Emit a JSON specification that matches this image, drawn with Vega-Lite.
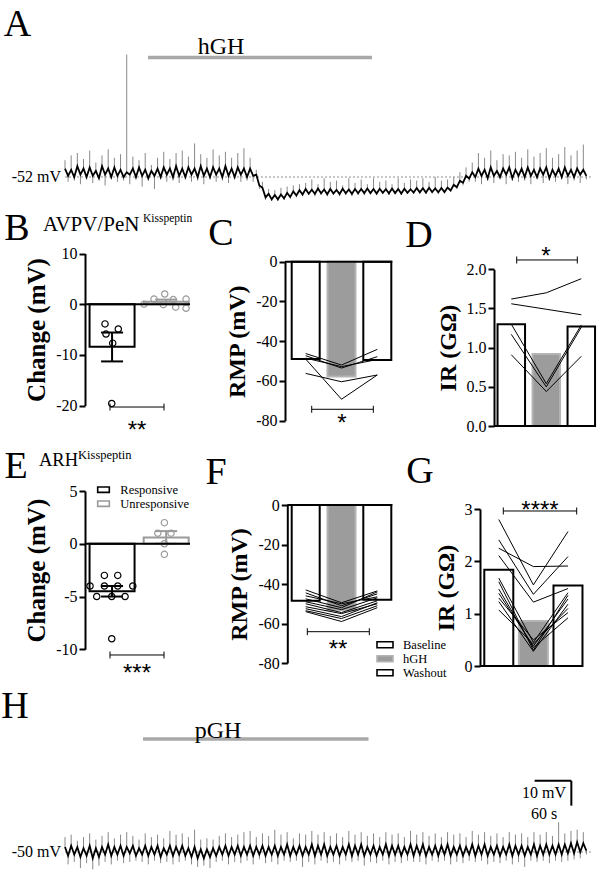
{
"$schema":"https://vega.github.io/schema/vega-lite/v6.json",
"width":600,"height":882,"autosize":{"type":"none"},"padding":0,"background":"white",
"config":{
 "view":{"stroke":null},
 "font":"Liberation Serif",
 "text":{"font":"Liberation Serif","color":"black"},
 "axis":{"domainColor":"black","domainWidth":2,"tickColor":"black","tickWidth":2,"tickSize":6,"labelFont":"Liberation Serif","labelFontSize":16,"labelColor":"black","labelPadding":2,"titleFont":"Liberation Serif","titleFontSize":24,"titleFontWeight":"bold","titleColor":"black","titlePadding":6,"grid":false},
 "legend":{"labelFont":"Liberation Serif","labelFontSize":12.5,"labelColor":"black"}
},
"datasets":{
 "traceA":[
  {"t":0,"v":-48.5,"g":-45},{"t":5,"v":-51.5,"g":-54},{"t":10,"v":-49,"g":-43},{"t":15,"v":-52,"g":-53.5},{"t":20,"v":-47.5,"g":-42},{"t":25,"v":-51,"g":-55},{"t":30,"v":-48.5,"g":-44.5},{"t":35,"v":-52,"g":-53},{"t":40,"v":-48,"g":-41},{"t":45,"v":-51.5,"g":-54.5},
  {"t":50,"v":-49.5,"g":-46},{"t":55,"v":-52.5,"g":-52.5},{"t":60,"v":-47.5,"g":-43},{"t":65,"v":-51,"g":-55.5},{"t":70,"v":-48.5,"g":-40.5},{"t":75,"v":-52,"g":-53},{"t":80,"v":-48,"g":-44},{"t":85,"v":-51.5,"g":-54},{"t":90,"v":-49,"g":-42.5},{"t":95,"v":-52,"g":-53.5},
  {"t":100,"v":-50,"g":-1},{"t":105,"v":-51,"g":-55},{"t":110,"v":-48.5,"g":-43.5},{"t":115,"v":-52,"g":-53},{"t":120,"v":-48,"g":-45},{"t":125,"v":-51.5,"g":-56},{"t":130,"v":-49,"g":-42},{"t":135,"v":-52.5,"g":-53.5},{"t":140,"v":-49.5,"g":-47},{"t":145,"v":-51.5,"g":-57},
  {"t":150,"v":-48.5,"g":-44},{"t":155,"v":-52,"g":-53},{"t":160,"v":-48,"g":-41.5},{"t":165,"v":-51,"g":-54},{"t":170,"v":-48.5,"g":-44.5},{"t":175,"v":-52,"g":-53.5},{"t":180,"v":-47.5,"g":-42},{"t":185,"v":-51.5,"g":-54.5},{"t":190,"v":-48.5,"g":-41},{"t":195,"v":-52,"g":-53},
  {"t":200,"v":-48,"g":-43.5},{"t":205,"v":-51,"g":-54},{"t":210,"v":-48.5,"g":-38},{"t":215,"v":-52,"g":-53.5},{"t":220,"v":-47.5,"g":-42.5},{"t":225,"v":-51.5,"g":-55},{"t":230,"v":-48.5,"g":-44},{"t":235,"v":-52,"g":-53},{"t":240,"v":-48,"g":-40.5},{"t":245,"v":-51,"g":-54},
  {"t":250,"v":-48.5,"g":-43},{"t":255,"v":-52,"g":-53.5},{"t":260,"v":-47.5,"g":-41.5},{"t":265,"v":-51.5,"g":-54.5},{"t":270,"v":-48.5,"g":-44},{"t":275,"v":-52,"g":-53},{"t":280,"v":-48,"g":-42},{"t":285,"v":-51,"g":-54},{"t":290,"v":-48.5,"g":-40},{"t":295,"v":-52,"g":-53.5},
  {"t":300,"v":-48.5,"g":-44},{"t":305,"v":-51.5,"g":-54},{"t":310,"v":-51,"g":-49},{"t":315,"v":-55.5,"g":-57},{"t":320,"v":-56.5,"g":-54},{"t":325,"v":-60.5,"g":-61.5},{"t":330,"v":-59,"g":-57},{"t":335,"v":-61.3,"g":-62},{"t":340,"v":-59.5,"g":-57.5},{"t":345,"v":-61.3,"g":-62},
  {"t":350,"v":-59.3,"g":-56.5},{"t":355,"v":-60.9,"g":-61.5},{"t":360,"v":-58.6,"g":-56},{"t":365,"v":-60.3,"g":-61},{"t":370,"v":-58,"g":-55.5},{"t":375,"v":-59.7,"g":-60.5},{"t":380,"v":-57.5,"g":-55},{"t":385,"v":-59.3,"g":-60},{"t":390,"v":-57,"g":-54.5},{"t":395,"v":-59,"g":-59.5},
  {"t":400,"v":-57.3,"g":-53},{"t":405,"v":-59,"g":-60},{"t":410,"v":-56.8,"g":-55},{"t":415,"v":-58.8,"g":-59.5},{"t":420,"v":-57.2,"g":-52.5},{"t":425,"v":-59.2,"g":-60},{"t":430,"v":-57,"g":-54},{"t":435,"v":-58.9,"g":-59.5},{"t":440,"v":-57.4,"g":-53.5},{"t":445,"v":-59.1,"g":-60},
  {"t":450,"v":-56.9,"g":-55.5},{"t":455,"v":-58.8,"g":-59.5},{"t":460,"v":-57.2,"g":-52.5},{"t":465,"v":-59,"g":-60},{"t":470,"v":-57,"g":-54.5},{"t":475,"v":-58.8,"g":-59.5},{"t":480,"v":-57,"g":-53},{"t":485,"v":-58.7,"g":-59.5},{"t":490,"v":-56.8,"g":-55},{"t":495,"v":-58.7,"g":-59},
  {"t":500,"v":-57,"g":-52.5},{"t":505,"v":-58.9,"g":-59.5},{"t":510,"v":-56.9,"g":-54},{"t":515,"v":-58.6,"g":-59},{"t":520,"v":-57.1,"g":-53.5},{"t":525,"v":-58.8,"g":-59.5},{"t":530,"v":-56.8,"g":-55},{"t":535,"v":-58.7,"g":-59},{"t":540,"v":-57,"g":-52.5},{"t":545,"v":-58.9,"g":-59.5},
  {"t":550,"v":-56.9,"g":-54.5},{"t":555,"v":-58.6,"g":-59},{"t":560,"v":-57.1,"g":-53},{"t":565,"v":-58.5,"g":-59},{"t":570,"v":-56.6,"g":-53.5},{"t":575,"v":-58.4,"g":-58.8},{"t":580,"v":-56.7,"g":-52.5},{"t":585,"v":-58.5,"g":-59},{"t":590,"v":-56.5,"g":-54},{"t":595,"v":-58.3,"g":-58.8},
  {"t":600,"v":-56.8,"g":-52},{"t":605,"v":-58.4,"g":-59},{"t":610,"v":-56.6,"g":-53.5},{"t":615,"v":-58.3,"g":-58.5},{"t":620,"v":-56.4,"g":-53},{"t":625,"v":-57.6,"g":-58},{"t":630,"v":-55.3,"g":-52},{"t":635,"v":-56.2,"g":-57},{"t":640,"v":-53.6,"g":-50},{"t":645,"v":-54.4,"g":-55.5},
  {"t":650,"v":-51.5,"g":-48},{"t":655,"v":-52.6,"g":-54},{"t":660,"v":-50,"g":-46},{"t":665,"v":-52,"g":-54},{"t":670,"v":-48.5,"g":-42},{"t":675,"v":-51.5,"g":-55},{"t":680,"v":-49,"g":-44},{"t":685,"v":-52.5,"g":-53.5},{"t":690,"v":-48,"g":-41},{"t":695,"v":-51.5,"g":-54.5},
  {"t":700,"v":-49.5,"g":-45},{"t":705,"v":-52,"g":-53},{"t":710,"v":-48.5,"g":-42.5},{"t":715,"v":-51,"g":-55},{"t":720,"v":-48,"g":-43},{"t":725,"v":-52.5,"g":-53.5},{"t":730,"v":-49,"g":-41.5},{"t":735,"v":-51.5,"g":-54},{"t":740,"v":-48.5,"g":-44},{"t":745,"v":-52,"g":-53.5},
  {"t":750,"v":-48,"g":-40.5},{"t":755,"v":-51.5,"g":-55},{"t":760,"v":-49,"g":-43.5},{"t":765,"v":-52,"g":-53},{"t":770,"v":-48.5,"g":-42},{"t":775,"v":-51,"g":-54.5},{"t":780,"v":-48,"g":-40},{"t":785,"v":-52.5,"g":-53.5},{"t":790,"v":-49,"g":-44},{"t":795,"v":-51.5,"g":-54},
  {"t":800,"v":-48.5,"g":-42.5},{"t":805,"v":-52,"g":-53},{"t":810,"v":-48,"g":-39.5},{"t":815,"v":-51.5,"g":-55},{"t":820,"v":-49,"g":-43},{"t":825,"v":-52,"g":-53.5},{"t":830,"v":-48.5,"g":-41},{"t":835,"v":-51,"g":-54.5},{"t":840,"v":-49,"g":-38.5},{"t":845,"v":-51.5,"g":-53}
 ],
 "traceH":[
  {"t":0,"v":-48,"g":-44},{"t":5,"v":-51.5,"g":-55},{"t":10,"v":-47.5,"g":-43},{"t":15,"v":-51,"g":-54},{"t":20,"v":-48,"g":-45.5},{"t":25,"v":-52,"g":-56.5},{"t":30,"v":-48.5,"g":-44},{"t":35,"v":-51.5,"g":-54.5},{"t":40,"v":-47.5,"g":-42.5},{"t":45,"v":-52.5,"g":-57},
  {"t":50,"v":-48.5,"g":-45},{"t":55,"v":-52,"g":-55.5},{"t":60,"v":-48,"g":-43.5},{"t":65,"v":-51,"g":-54},{"t":70,"v":-47,"g":-42},{"t":75,"v":-51.5,"g":-55},{"t":80,"v":-48,"g":-44.5},{"t":85,"v":-51,"g":-53.5},{"t":90,"v":-47.5,"g":-43},{"t":95,"v":-51.5,"g":-54.5},
  {"t":100,"v":-48,"g":-42},{"t":105,"v":-50.5,"g":-54},{"t":110,"v":-47.5,"g":-43.5},{"t":115,"v":-51.5,"g":-53.5},{"t":120,"v":-48.5,"g":-45},{"t":125,"v":-51,"g":-54},{"t":130,"v":-47.5,"g":-42.5},{"t":135,"v":-51.5,"g":-55},{"t":140,"v":-48,"g":-44},{"t":145,"v":-51,"g":-53.5},
  {"t":150,"v":-47.5,"g":-43},{"t":155,"v":-52,"g":-54.5},{"t":160,"v":-48.5,"g":-44.5},{"t":165,"v":-51,"g":-54},{"t":170,"v":-47.5,"g":-41.5},{"t":175,"v":-51.5,"g":-55},{"t":180,"v":-48,"g":-43},{"t":185,"v":-51,"g":-54},{"t":190,"v":-47.5,"g":-42.5},{"t":195,"v":-51.5,"g":-53.5},
  {"t":200,"v":-48.5,"g":-44},{"t":205,"v":-52,"g":-55},{"t":210,"v":-48,"g":-41},{"t":215,"v":-52.5,"g":-56},{"t":220,"v":-49,"g":-45},{"t":225,"v":-52.5,"g":-55.5},{"t":230,"v":-49,"g":-44.5},{"t":235,"v":-52,"g":-56.5},{"t":240,"v":-48.5,"g":-45},{"t":245,"v":-51.5,"g":-54},
  {"t":250,"v":-48,"g":-43.5},{"t":255,"v":-51,"g":-53.5},{"t":260,"v":-47.5,"g":-42.5},{"t":265,"v":-51.5,"g":-55},{"t":270,"v":-48,"g":-44},{"t":275,"v":-51,"g":-54},{"t":280,"v":-47.5,"g":-43},{"t":285,"v":-51.5,"g":-54.5},{"t":290,"v":-48,"g":-42},{"t":295,"v":-51,"g":-53.5},
  {"t":300,"v":-47.5,"g":-41.5},{"t":305,"v":-51.5,"g":-55},{"t":310,"v":-48,"g":-44},{"t":315,"v":-51,"g":-53},{"t":320,"v":-47.5,"g":-42.5},{"t":325,"v":-51.5,"g":-54.5},{"t":330,"v":-48,"g":-43.5},{"t":335,"v":-51,"g":-54},{"t":340,"v":-47.5,"g":-41},{"t":345,"v":-51.5,"g":-55},
  {"t":350,"v":-48,"g":-43},{"t":355,"v":-51,"g":-53.5},{"t":360,"v":-47,"g":-42},{"t":365,"v":-51.5,"g":-54},{"t":370,"v":-48,"g":-44.5},{"t":375,"v":-51,"g":-53.5},{"t":380,"v":-47.5,"g":-42.5},{"t":385,"v":-51.5,"g":-56},{"t":390,"v":-48,"g":-43},{"t":395,"v":-51,"g":-54},
  {"t":400,"v":-47,"g":-41.5},{"t":405,"v":-51.5,"g":-55},{"t":410,"v":-47.5,"g":-43},{"t":415,"v":-51,"g":-53.5},{"t":420,"v":-47,"g":-42},{"t":425,"v":-51.5,"g":-54.5},{"t":430,"v":-48,"g":-43.5},{"t":435,"v":-51,"g":-54},{"t":440,"v":-47.5,"g":-42.5},{"t":445,"v":-51.5,"g":-55},
  {"t":450,"v":-48,"g":-44},{"t":455,"v":-51,"g":-53.5},{"t":460,"v":-47,"g":-41.5},{"t":465,"v":-51.5,"g":-54},{"t":470,"v":-47.5,"g":-43},{"t":475,"v":-51,"g":-53.5},{"t":480,"v":-47,"g":-42},{"t":485,"v":-51.5,"g":-55.5},{"t":490,"v":-48,"g":-43.5},{"t":495,"v":-51,"g":-54},
  {"t":500,"v":-47.5,"g":-42.5},{"t":505,"v":-51.5,"g":-54.5},{"t":510,"v":-48,"g":-44},{"t":515,"v":-51,"g":-53.5},{"t":520,"v":-47,"g":-42},{"t":525,"v":-51.5,"g":-55},{"t":530,"v":-47.5,"g":-43},{"t":535,"v":-51,"g":-54},{"t":540,"v":-47.5,"g":-42.5},{"t":545,"v":-51.5,"g":-54.5},
  {"t":550,"v":-48,"g":-44},{"t":555,"v":-51,"g":-53.5},{"t":560,"v":-47,"g":-41.5},{"t":565,"v":-51.5,"g":-54},{"t":570,"v":-47.5,"g":-43},{"t":575,"v":-51,"g":-54},{"t":580,"v":-47,"g":-42},{"t":585,"v":-51.5,"g":-55},{"t":590,"v":-48,"g":-43.5},{"t":595,"v":-51,"g":-53.5},
  {"t":600,"v":-47.5,"g":-42.5},{"t":605,"v":-51.5,"g":-54},{"t":610,"v":-47.5,"g":-44},{"t":615,"v":-51,"g":-53.5},{"t":620,"v":-47,"g":-42},{"t":625,"v":-51.5,"g":-55},{"t":630,"v":-48,"g":-43},{"t":635,"v":-51,"g":-54},{"t":640,"v":-47.5,"g":-42.5},{"t":645,"v":-51.5,"g":-54.5},
  {"t":650,"v":-48,"g":-44},{"t":655,"v":-51,"g":-53.5},{"t":660,"v":-47,"g":-41.5},{"t":665,"v":-51.5,"g":-54},{"t":670,"v":-47.5,"g":-43},{"t":675,"v":-51,"g":-53.5},{"t":680,"v":-47,"g":-42},{"t":685,"v":-51.5,"g":-55},{"t":690,"v":-48,"g":-43.5},{"t":695,"v":-51,"g":-54},
  {"t":700,"v":-47.5,"g":-42.5},{"t":705,"v":-51.5,"g":-54.5},{"t":710,"v":-48,"g":-44},{"t":715,"v":-51,"g":-53.5},{"t":720,"v":-47,"g":-42},{"t":725,"v":-51.5,"g":-55},{"t":730,"v":-47.5,"g":-43},{"t":735,"v":-51,"g":-54},{"t":740,"v":-47.5,"g":-42.5},{"t":745,"v":-51.5,"g":-56},
  {"t":750,"v":-48,"g":-44},{"t":755,"v":-51,"g":-53.5},{"t":760,"v":-47,"g":-42},{"t":765,"v":-51.5,"g":-54},{"t":770,"v":-47.5,"g":-43},{"t":775,"v":-51,"g":-53.5},{"t":780,"v":-47,"g":-42},{"t":785,"v":-51,"g":-54.5},{"t":790,"v":-47.5,"g":-43.5},{"t":795,"v":-51,"g":-53.5},
  {"t":800,"v":-47,"g":-38},{"t":805,"v":-51,"g":-54},{"t":810,"v":-47,"g":-42.5},{"t":815,"v":-50.5,"g":-53.5},{"t":820,"v":-46.5,"g":-41.5},{"t":825,"v":-50.5,"g":-53},{"t":830,"v":-46,"g":-41},{"t":835,"v":-50,"g":-52.5},{"t":840,"v":-46.5,"g":-42},{"t":845,"v":-49.5,"g":-51}
 ],
 "B_bars":[{"k":1,"grp":"Responsive","v":-8.4},{"k":2,"grp":"Unresponsive","v":0.5}],
 "B_err":[{"k":1,"grp":"Responsive","lo":-11.3,"hi":-5.6},{"k":2,"grp":"Unresponsive","lo":0.1,"hi":0.9}],
 "B_dots":[
  {"x":0.87,"grp":"Responsive","v":-3.9},{"x":1.115,"grp":"Responsive","v":-4.9},{"x":0.888,"grp":"Responsive","v":-5.9},{"x":1.012,"grp":"Responsive","v":-7.7},{"x":0.994,"grp":"Responsive","v":-19.6},
  {"x":1.59,"grp":"Unresponsive","v":0},{"x":1.775,"grp":"Unresponsive","v":1.0},{"x":1.947,"grp":"Unresponsive","v":-0.1},{"x":1.973,"grp":"Unresponsive","v":2.0},{"x":2.13,"grp":"Unresponsive","v":0.9},{"x":2.176,"grp":"Unresponsive","v":-0.6},{"x":2.367,"grp":"Unresponsive","v":1.0},{"x":2.367,"grp":"Unresponsive","v":-0.8}
 ],
 "E_bars":[{"k":1,"grp":"Responsive","v":-4.5},{"k":2,"grp":"Unresponsive","v":0.6}],
 "E_err":[{"k":1,"grp":"Responsive","lo":-5.0,"hi":-4.0},{"k":2,"grp":"Unresponsive","lo":0.0,"hi":1.2}],
 "E_dots":[
  {"x":0.593,"grp":"Responsive","v":-4},{"x":0.717,"grp":"Responsive","v":-5},{"x":0.858,"grp":"Responsive","v":-3},{"x":0.858,"grp":"Responsive","v":-4},{"x":0.994,"grp":"Responsive","v":-5},{"x":0.994,"grp":"Responsive","v":-9},{"x":1.105,"grp":"Responsive","v":-3},{"x":1.105,"grp":"Responsive","v":-4},{"x":1.24,"grp":"Responsive","v":-5},{"x":1.383,"grp":"Responsive","v":-4},
  {"x":1.967,"grp":"Unresponsive","v":2},{"x":1.845,"grp":"Unresponsive","v":1},{"x":2.09,"grp":"Unresponsive","v":1},{"x":1.967,"grp":"Unresponsive","v":0},{"x":1.967,"grp":"Unresponsive","v":-1}
 ],
 "C_bars":[{"k":1,"cond":"Baseline","v":-49},{"k":2,"cond":"hGH","v":-57.8},{"k":3,"cond":"Washout","v":-49.5}],
 "C_lines":[
  {"cell":1,"k":1,"v":-46.2},{"cell":1,"k":2,"v":-52},{"cell":1,"k":3,"v":-44.1},
  {"cell":2,"k":1,"v":-47.3},{"cell":2,"k":2,"v":-53.5},{"cell":2,"k":3,"v":-47.8},
  {"cell":3,"k":1,"v":-48.5},{"cell":3,"k":2,"v":-52.8},{"cell":3,"k":3,"v":-49.2},
  {"cell":4,"k":1,"v":-56.2},{"cell":4,"k":2,"v":-60.4},{"cell":4,"k":3,"v":-57},
  {"cell":5,"k":1,"v":-49},{"cell":5,"k":2,"v":-69.2},{"cell":5,"k":3,"v":-57}
 ],
 "D_bars":[{"k":1,"cond":"Baseline","v":1.30},{"k":2,"cond":"hGH","v":0.92},{"k":3,"cond":"Washout","v":1.27}],
 "D_lines":[
  {"cell":1,"k":1,"v":1.62},{"cell":1,"k":2,"v":1.70},{"cell":1,"k":3,"v":1.88},
  {"cell":2,"k":1,"v":1.56},{"cell":2,"k":2,"v":1.49},{"cell":2,"k":3,"v":1.42},
  {"cell":3,"k":1,"v":1.30},{"cell":3,"k":2,"v":0.54},{"cell":3,"k":3,"v":1.29},
  {"cell":4,"k":1,"v":1.17},{"cell":4,"k":2,"v":0.50},{"cell":4,"k":3,"v":1.26},
  {"cell":5,"k":1,"v":0.91},{"cell":5,"k":2,"v":0.44},{"cell":5,"k":3,"v":0.89}
 ],
 "F_bars":[{"k":1,"cond":"Baseline","v":-48.5},{"k":2,"cond":"hGH","v":-53.3},{"k":3,"cond":"Washout","v":-48}],
 "F_lines":[
  {"cell":1,"k":1,"v":-43},{"cell":1,"k":2,"v":-49.5},{"cell":1,"k":3,"v":-43.5},
  {"cell":2,"k":1,"v":-44.5},{"cell":2,"k":2,"v":-51},{"cell":2,"k":3,"v":-45},
  {"cell":3,"k":1,"v":-46},{"cell":3,"k":2,"v":-50},{"cell":3,"k":3,"v":-46.5},
  {"cell":4,"k":1,"v":-47.5},{"cell":4,"k":2,"v":-52},{"cell":4,"k":3,"v":-44},
  {"cell":5,"k":1,"v":-49},{"cell":5,"k":2,"v":-53},{"cell":5,"k":3,"v":-47},
  {"cell":6,"k":1,"v":-50},{"cell":6,"k":2,"v":-54.5},{"cell":6,"k":3,"v":-48.5},
  {"cell":7,"k":1,"v":-51.5},{"cell":7,"k":2,"v":-55},{"cell":7,"k":3,"v":-50},
  {"cell":8,"k":1,"v":-52.5},{"cell":8,"k":2,"v":-56.5},{"cell":8,"k":3,"v":-49.5},
  {"cell":9,"k":1,"v":-53.5},{"cell":9,"k":2,"v":-57.5},{"cell":9,"k":3,"v":-51},
  {"cell":10,"k":1,"v":-54},{"cell":10,"k":2,"v":-59},{"cell":10,"k":3,"v":-52}
 ],
 "G_bars":[{"k":1,"cond":"Baseline","v":1.84},{"k":2,"cond":"hGH","v":0.86},{"k":3,"cond":"Washout","v":1.54}],
 "G_lines":[
  {"cell":1,"k":1,"v":2.80},{"cell":1,"k":2,"v":1.55},{"cell":1,"k":3,"v":2.57},
  {"cell":2,"k":1,"v":2.41},{"cell":2,"k":2,"v":1.37},{"cell":2,"k":3,"v":2.09},
  {"cell":3,"k":1,"v":2.25},{"cell":3,"k":2,"v":1.90},{"cell":3,"k":3,"v":1.91},
  {"cell":4,"k":1,"v":2.11},{"cell":4,"k":2,"v":1.22},{"cell":4,"k":3,"v":1.48},
  {"cell":5,"k":1,"v":1.68},{"cell":5,"k":2,"v":0.45},{"cell":5,"k":3,"v":1.40},
  {"cell":6,"k":1,"v":1.61},{"cell":6,"k":2,"v":0.30},{"cell":6,"k":3,"v":1.35},
  {"cell":7,"k":1,"v":1.39},{"cell":7,"k":2,"v":0.38},{"cell":7,"k":3,"v":1.28},
  {"cell":8,"k":1,"v":1.23},{"cell":8,"k":2,"v":0.28},{"cell":8,"k":3,"v":1.18},
  {"cell":9,"k":1,"v":1.07},{"cell":9,"k":2,"v":0.42},{"cell":9,"k":3,"v":1.10},
  {"cell":10,"k":1,"v":1.47},{"cell":10,"k":2,"v":0.35},{"cell":10,"k":3,"v":0.92},
  {"cell":11,"k":1,"v":1.30},{"cell":11,"k":2,"v":0.50},{"cell":11,"k":3,"v":1.02}
 ]
},
"layer":[
 {
  "layer":[
   {"data":{"values":[{}]},"mark":{"type":"rule","color":"#c8c8c8","strokeWidth":2,"strokeDash":[2,2]},"encoding":{"x":{"datum":0,"scale":{"domain":[0,845],"range":[65,586.4],"nice":false,"zero":false,"padding":0},"axis":null},"x2":{"datum":854},"y":{"datum":-52,"scale":{"domain":[-70,10],"range":[220.2,28.2],"nice":false,"zero":false},"axis":null}}},
   {"data":{"name":"traceA"},"mark":{"type":"rule","color":"#7a7a7a","strokeWidth":0.9},"encoding":{"x":{"field":"t","type":"quantitative"},"y":{"field":"v","type":"quantitative"},"y2":{"field":"g"}}},
   {"data":{"name":"traceA"},"mark":{"type":"line","color":"black","strokeWidth":1.8},"encoding":{"x":{"field":"t","type":"quantitative"},"y":{"field":"v","type":"quantitative"}}},
   {"data":{"values":[{}]},"mark":{"type":"rule","color":"#a8a8a8","strokeWidth":3.5},"encoding":{"x":{"datum":134.5},"x2":{"datum":497.6},"y":{"datum":-2.21}}},
   {"data":{"values":[{}]},"mark":{"type":"text","text":"hGH","fontSize":24,"align":"center","baseline":"middle"},"encoding":{"x":{"datum":252.8},"y":{"datum":2.17}}},
   {"data":{"values":[{}]},"mark":{"type":"text","text":"A","fontSize":38,"align":"center","baseline":"middle"},"encoding":{"x":{"datum":-77},"y":{"datum":11.33}}},
   {"data":{"values":[{}]},"mark":{"type":"text","text":"-52 mV","fontSize":16,"align":"right","baseline":"middle"},"encoding":{"x":{"datum":-6.5},"y":{"datum":-52}}}
  ]
 },
 {
  "layer":[
   {"data":{"name":"B_bars"},"mark":{"type":"bar","width":45,"fill":"white","strokeWidth":2},"encoding":{
     "x":{"field":"k","type":"quantitative","scale":{"domain":[0.5,2.44],"range":[85,190],"nice":false,"zero":false,"padding":0},"axis":null},
     "y":{"field":"v","type":"quantitative","scale":{"domain":[-20,10],"range":[405.5,253.5],"nice":false,"zero":false,"padding":0},"axis":{"orient":"left","offset":-85,"values":[10,0,-10,-20],"labelExpr":"'' + datum.value","labelFont":"Liberation Serif","labelFontSize":16,"title":"Change (mV)","titleFontSize":25}},
     "y2":{"datum":0},
     "stroke":{"field":"grp","type":"nominal","scale":{"domain":["Responsive","Unresponsive"],"range":["black","#9a9a9a"]},"legend":null}}},
   {"data":{"name":"B_err"},"mark":{"type":"rule","strokeWidth":2},"encoding":{"x":{"field":"k","type":"quantitative"},"y":{"field":"lo","type":"quantitative"},"y2":{"field":"hi"},"stroke":{"field":"grp","type":"nominal","legend":null}}},
   {"data":{"name":"B_err"},"mark":{"type":"tick","orient":"horizontal","size":22,"thickness":2,"opacity":1},"encoding":{"x":{"field":"k","type":"quantitative"},"y":{"field":"lo","type":"quantitative"},"color":{"field":"grp","type":"nominal","scale":{"domain":["Responsive","Unresponsive"],"range":["black","#9a9a9a"]},"legend":null}}},
   {"data":{"name":"B_err"},"mark":{"type":"tick","orient":"horizontal","size":22,"thickness":2,"opacity":1},"encoding":{"x":{"field":"k","type":"quantitative"},"y":{"field":"hi","type":"quantitative"},"color":{"field":"grp","type":"nominal","legend":null}}},
   {"data":{"name":"B_dots"},"mark":{"type":"point","shape":"circle","filled":false,"size":40,"strokeWidth":1.2,"opacity":1},"encoding":{"x":{"field":"x","type":"quantitative"},"y":{"field":"v","type":"quantitative"},"stroke":{"field":"grp","type":"nominal","legend":null}}},
   {"data":{"values":[{}]},"mark":{"type":"rule","color":"black","strokeWidth":2},"encoding":{"x":{"datum":0.5},"x2":{"datum":2.44},"y":{"datum":0}}},
   {"data":{"values":[{}]},"mark":{"type":"rule","color":"black","strokeWidth":1},"encoding":{"x":{"datum":0.962},"x2":{"datum":1.96},"y":{"datum":-20.3}}},
   {"data":{"values":[{}]},"mark":{"type":"rule","color":"black","strokeWidth":1},"encoding":{"x":{"datum":0.962},"y":{"datum":-19.61},"y2":{"datum":-20.99}}},
   {"data":{"values":[{}]},"mark":{"type":"rule","color":"black","strokeWidth":1},"encoding":{"x":{"datum":1.96},"y":{"datum":-19.61},"y2":{"datum":-20.99}}},
   {"data":{"values":[{}]},"mark":{"type":"text","text":"**","font":"Liberation Sans","fontSize":24,"align":"center","baseline":"middle"},"encoding":{"x":{"datum":1.461},"y":{"datum":-24.95}}},
   {"data":{"values":[{}]},"mark":{"type":"text","text":"B","fontSize":38,"align":"center","baseline":"middle"},"encoding":{"x":{"datum":-0.756},"y":{"datum":14.84}}},
   {"data":{"values":[{}]},"mark":{"type":"text","text":"AVPV/PeN","fontSize":21,"align":"left","baseline":"middle"},"encoding":{"x":{"datum":-0.276},"y":{"datum":15.62}}},
   {"data":{"values":[{}]},"mark":{"type":"text","text":"Kisspeptin","fontSize":11.5,"align":"left","baseline":"middle"},"encoding":{"x":{"datum":1.572},"y":{"datum":16.81}}}
  ]
 },
 {
  "layer":[
   {"data":{"name":"C_bars"},"mark":{"type":"bar","width":28,"strokeWidth":2},"encoding":{
     "x":{"field":"k","type":"quantitative","scale":{"domain":[0.422,3.419],"range":[285,392.3],"nice":false,"zero":false,"padding":0},"axis":null},
     "y":{"field":"v","type":"quantitative","scale":{"domain":[-80,0],"range":[420.7,261.7],"nice":false,"zero":false,"padding":0},"axis":{"orient":"left","offset":-285,"values":[0,-20,-40,-60,-80],"labelExpr":"'' + datum.value","labelFont":"Liberation Serif","labelFontSize":16,"title":"RMP (mV)"}},
     "y2":{"datum":0},
     "fill":{"field":"cond","type":"nominal","scale":{"domain":["Baseline","hGH","Washout"],"range":["white","#9c9c9c","white"]},"legend":null},
     "stroke":{"field":"cond","type":"nominal","scale":{"domain":["Baseline","hGH","Washout"],"range":["black","#b4b4b4","black"]},"legend":null}}},
   {"data":{"name":"C_lines"},"mark":{"type":"line","color":"black","strokeWidth":1},"encoding":{"x":{"field":"k","type":"quantitative"},"y":{"field":"v","type":"quantitative"},"detail":{"field":"cell","type":"nominal"},"order":{"field":"k","type":"quantitative"}}},
   {"data":{"values":[{}]},"mark":{"type":"rule","color":"black","strokeWidth":2},"encoding":{"x":{"datum":0.422},"x2":{"datum":3.419},"y":{"datum":0}}},
   {"data":{"values":[{}]},"mark":{"type":"rule","color":"black","strokeWidth":1},"encoding":{"x":{"datum":1.168},"x2":{"datum":2.889},"y":{"datum":-74.26}}},
   {"data":{"values":[{}]},"mark":{"type":"rule","color":"black","strokeWidth":1},"encoding":{"x":{"datum":1.168},"y":{"datum":-72.5},"y2":{"datum":-76.02}}},
   {"data":{"values":[{}]},"mark":{"type":"rule","color":"black","strokeWidth":1},"encoding":{"x":{"datum":2.889},"y":{"datum":-72.5},"y2":{"datum":-76.02}}},
   {"data":{"values":[{}]},"mark":{"type":"text","text":"*","font":"Liberation Sans","fontSize":24,"align":"center","baseline":"middle"},"encoding":{"x":{"datum":2.014},"y":{"datum":-81.46}}},
   {"data":{"values":[{}]},"mark":{"type":"text","text":"C","fontSize":38,"align":"center","baseline":"middle"},"encoding":{"x":{"datum":-1.366},"y":{"datum":13.96}}}
  ]
 },
 {
  "layer":[
   {"data":{"name":"D_bars"},"mark":{"type":"bar","width":27.5,"strokeWidth":2},"encoding":{
     "x":{"field":"k","type":"quantitative","scale":{"domain":[0.506,3.42],"range":[494,596],"nice":false,"zero":false,"padding":0},"axis":null},
     "y":{"field":"v","type":"quantitative","scale":{"domain":[0,2],"range":[426,269.3],"nice":false,"zero":false,"padding":0},"axis":{"orient":"left","offset":-494,"values":[0,0.5,1,1.5,2],"labelExpr":"format(datum.value, '.1f')","labelFont":"Liberation Serif","labelFontSize":16,"title":"IR (GΩ)"}},
     "y2":{"datum":0},
     "fill":{"field":"cond","type":"nominal","scale":{"domain":["Baseline","hGH","Washout"],"range":["white","#9c9c9c","white"]},"legend":null},
     "stroke":{"field":"cond","type":"nominal","scale":{"domain":["Baseline","hGH","Washout"],"range":["black","#b4b4b4","black"]},"legend":null}}},
   {"data":{"name":"D_lines"},"mark":{"type":"line","color":"black","strokeWidth":1},"encoding":{"x":{"field":"k","type":"quantitative"},"y":{"field":"v","type":"quantitative"},"detail":{"field":"cell","type":"nominal"},"order":{"field":"k","type":"quantitative"}}},
   {"data":{"values":[{}]},"mark":{"type":"rule","color":"black","strokeWidth":2},"encoding":{"x":{"datum":0.506},"x2":{"datum":3.42},"y":{"datum":0}}},
   {"data":{"values":[{}]},"mark":{"type":"rule","color":"black","strokeWidth":1},"encoding":{"x":{"datum":1.155},"x2":{"datum":2.886},"y":{"datum":2.119}}},
   {"data":{"values":[{}]},"mark":{"type":"rule","color":"black","strokeWidth":1},"encoding":{"x":{"datum":1.155},"y":{"datum":2.074},"y2":{"datum":2.164}}},
   {"data":{"values":[{}]},"mark":{"type":"rule","color":"black","strokeWidth":1},"encoding":{"x":{"datum":2.886},"y":{"datum":2.074},"y2":{"datum":2.164}}},
   {"data":{"values":[{}]},"mark":{"type":"text","text":"*","font":"Liberation Sans","fontSize":24,"align":"center","baseline":"middle"},"encoding":{"x":{"datum":1.992},"y":{"datum":2.162}}},
   {"data":{"values":[{}]},"mark":{"type":"text","text":"D","fontSize":38,"align":"center","baseline":"middle"},"encoding":{"x":{"datum":-1.637},"y":{"datum":2.425}}}
  ]
 },
 {
  "layer":[
   {"data":{"name":"E_bars"},"mark":{"type":"bar","width":45,"strokeWidth":2},"encoding":{
     "x":{"field":"k","type":"quantitative","scale":{"domain":[0.5,2.44],"range":[85,190],"nice":false,"zero":false,"padding":0},"axis":null},
     "y":{"field":"v","type":"quantitative","scale":{"domain":[-10,5],"range":[649.3,491],"nice":false,"zero":false,"padding":0},"axis":{"orient":"left","offset":-85,"values":[5,0,-5,-10],"labelExpr":"'' + datum.value","labelFont":"Liberation Serif","labelFontSize":16,"title":"Change (mV)","titleFontSize":25}},
     "y2":{"datum":0},
     "fill":{"field":"grp","type":"nominal","scale":{"domain":["Responsive","Unresponsive"],"range":["white","white"]},"legend":{"orient":"none","legendX":96.5,"legendY":482.7,"title":null,"padding":0,"symbolType":"M-0.97,-0.45H0.97V0.45H-0.97Z","symbolSize":144,"symbolStrokeWidth":1.6,"labelFontSize":12.5,"labelOffset":9.8,"rowPadding":0}},
     "stroke":{"field":"grp","type":"nominal","scale":{"domain":["Responsive","Unresponsive"],"range":["black","#9a9a9a"]},"legend":{"orient":"none","legendX":96.5,"legendY":482.7,"title":null,"padding":0,"symbolType":"M-0.97,-0.45H0.97V0.45H-0.97Z","symbolSize":144,"symbolStrokeWidth":1.6,"labelFontSize":12.5,"labelOffset":9.8,"rowPadding":0}}}},
   {"data":{"name":"E_err"},"mark":{"type":"rule","strokeWidth":2},"encoding":{"x":{"field":"k","type":"quantitative"},"y":{"field":"lo","type":"quantitative"},"y2":{"field":"hi"},"stroke":{"field":"grp","type":"nominal","legend":null}}},
   {"data":{"name":"E_err"},"mark":{"type":"tick","orient":"horizontal","size":22,"thickness":2,"opacity":1},"encoding":{"x":{"field":"k","type":"quantitative"},"y":{"field":"lo","type":"quantitative"},"color":{"field":"grp","type":"nominal","scale":{"domain":["Responsive","Unresponsive"],"range":["black","#9a9a9a"]},"legend":null}}},
   {"data":{"name":"E_err"},"mark":{"type":"tick","orient":"horizontal","size":22,"thickness":2,"opacity":1},"encoding":{"x":{"field":"k","type":"quantitative"},"y":{"field":"hi","type":"quantitative"},"color":{"field":"grp","type":"nominal","legend":null}}},
   {"data":{"name":"E_dots"},"mark":{"type":"point","shape":"circle","filled":false,"size":40,"strokeWidth":1.2,"opacity":1},"encoding":{"x":{"field":"x","type":"quantitative"},"y":{"field":"v","type":"quantitative"},"stroke":{"field":"grp","type":"nominal","legend":null}}},
   {"data":{"values":[{}]},"mark":{"type":"rule","color":"black","strokeWidth":2},"encoding":{"x":{"datum":0.5},"x2":{"datum":2.44},"y":{"datum":0}}},
   {"data":{"values":[{}]},"mark":{"type":"rule","color":"black","strokeWidth":1},"encoding":{"x":{"datum":0.962},"x2":{"datum":1.96},"y":{"datum":-10.54}}},
   {"data":{"values":[{}]},"mark":{"type":"rule","color":"black","strokeWidth":1},"encoding":{"x":{"datum":0.962},"y":{"datum":-10.21},"y2":{"datum":-10.87}}},
   {"data":{"values":[{}]},"mark":{"type":"rule","color":"black","strokeWidth":1},"encoding":{"x":{"datum":1.96},"y":{"datum":-10.21},"y2":{"datum":-10.87}}},
   {"data":{"values":[{}]},"mark":{"type":"text","text":"***","font":"Liberation Sans","fontSize":24,"align":"center","baseline":"middle"},"encoding":{"x":{"datum":1.461},"y":{"datum":-12.3}}},
   {"data":{"values":[{}]},"mark":{"type":"text","text":"E","fontSize":38,"align":"center","baseline":"middle"},"encoding":{"x":{"datum":-0.775},"y":{"datum":7.27}}},
   {"data":{"values":[{}]},"mark":{"type":"text","text":"ARH","fontSize":18.5,"align":"left","baseline":"middle"},"encoding":{"x":{"datum":-0.35},"y":{"datum":7.94}}},
   {"data":{"values":[{}]},"mark":{"type":"text","text":"Kisspeptin","fontSize":12.5,"align":"left","baseline":"middle"},"encoding":{"x":{"datum":0.372},"y":{"datum":8.41}}}
  ]
 },
 {
  "layer":[
   {"data":{"name":"F_bars"},"mark":{"type":"bar","width":28,"strokeWidth":2},"encoding":{
     "x":{"field":"k","type":"quantitative","scale":{"domain":[0.486,3.419],"range":[287.3,392.3],"nice":false,"zero":false,"padding":0},"axis":null},
     "y":{"field":"v","type":"quantitative","scale":{"domain":[-80,0],"range":[663,505],"nice":false,"zero":false,"padding":0},"axis":{"orient":"left","offset":-287.3,"values":[0,-20,-40,-60,-80],"labelExpr":"'' + datum.value","labelFont":"Liberation Serif","labelFontSize":16,"title":"RMP (mV)"}},
     "y2":{"datum":0},
     "fill":{"field":"cond","type":"nominal","scale":{"domain":["Baseline","hGH","Washout"],"range":["white","#9c9c9c","white"]},"legend":{"orient":"none","legendX":378,"legendY":637.7,"title":null,"padding":0,"symbolType":"M-1.333,-0.5H1.333V0.5H-1.333Z","symbolSize":144,"symbolStrokeWidth":1.6,"labelFontSize":12.5,"labelOffset":11,"rowPadding":0}},
     "stroke":{"field":"cond","type":"nominal","scale":{"domain":["Baseline","hGH","Washout"],"range":["black","#b4b4b4","black"]},"legend":{"orient":"none","legendX":378,"legendY":637.7,"title":null,"padding":0,"symbolType":"M-1.333,-0.5H1.333V0.5H-1.333Z","symbolSize":144,"symbolStrokeWidth":1.6,"labelFontSize":12.5,"labelOffset":11,"rowPadding":0}}}},
   {"data":{"name":"F_lines"},"mark":{"type":"line","color":"black","strokeWidth":1},"encoding":{"x":{"field":"k","type":"quantitative"},"y":{"field":"v","type":"quantitative"},"detail":{"field":"cell","type":"nominal"},"order":{"field":"k","type":"quantitative"}}},
   {"data":{"values":[{}]},"mark":{"type":"rule","color":"black","strokeWidth":2},"encoding":{"x":{"datum":0.486},"x2":{"datum":3.419},"y":{"datum":0}}},
   {"data":{"values":[{}]},"mark":{"type":"rule","color":"black","strokeWidth":1},"encoding":{"x":{"datum":1.045},"x2":{"datum":2.777},"y":{"datum":-64.15}}},
   {"data":{"values":[{}]},"mark":{"type":"rule","color":"black","strokeWidth":1},"encoding":{"x":{"datum":1.045},"y":{"datum":-62.38},"y2":{"datum":-65.92}}},
   {"data":{"values":[{}]},"mark":{"type":"rule","color":"black","strokeWidth":1},"encoding":{"x":{"datum":2.777},"y":{"datum":-62.38},"y2":{"datum":-65.92}}},
   {"data":{"values":[{}]},"mark":{"type":"text","text":"**","font":"Liberation Sans","fontSize":24,"align":"center","baseline":"middle"},"encoding":{"x":{"datum":1.902},"y":{"datum":-73.2}}},
   {"data":{"values":[{}]},"mark":{"type":"text","text":"F","fontSize":38,"align":"center","baseline":"middle"},"encoding":{"x":{"datum":-1.506},"y":{"datum":16.2}}}
  ]
 },
 {
  "layer":[
   {"data":{"name":"G_bars"},"mark":{"type":"bar","width":29,"strokeWidth":2},"encoding":{
     "x":{"field":"k","type":"quantitative","scale":{"domain":[0.457,3.434],"range":[480,583],"nice":false,"zero":false,"padding":0},"axis":null},
     "y":{"field":"v","type":"quantitative","scale":{"domain":[0,3],"range":[666,509],"nice":false,"zero":false,"padding":0},"axis":{"orient":"left","offset":-480,"values":[0,1,2,3],"labelExpr":"'' + datum.value","labelFont":"Liberation Serif","labelFontSize":16,"title":"IR (GΩ)"}},
     "y2":{"datum":0},
     "fill":{"field":"cond","type":"nominal","scale":{"domain":["Baseline","hGH","Washout"],"range":["white","#9c9c9c","white"]},"legend":null},
     "stroke":{"field":"cond","type":"nominal","scale":{"domain":["Baseline","hGH","Washout"],"range":["black","#b4b4b4","black"]},"legend":null}}},
   {"data":{"name":"G_lines"},"mark":{"type":"line","color":"black","strokeWidth":1},"encoding":{"x":{"field":"k","type":"quantitative"},"y":{"field":"v","type":"quantitative"},"detail":{"field":"cell","type":"nominal"},"order":{"field":"k","type":"quantitative"}}},
   {"data":{"values":[{}]},"mark":{"type":"rule","color":"black","strokeWidth":2},"encoding":{"x":{"datum":0.457},"x2":{"datum":3.434},"y":{"datum":0}}},
   {"data":{"values":[{}]},"mark":{"type":"rule","color":"black","strokeWidth":1},"encoding":{"x":{"datum":1.13},"x2":{"datum":3.252},"y":{"datum":2.962}}},
   {"data":{"values":[{}]},"mark":{"type":"rule","color":"black","strokeWidth":1},"encoding":{"x":{"datum":1.13},"y":{"datum":2.895},"y2":{"datum":3.029}}},
   {"data":{"values":[{}]},"mark":{"type":"rule","color":"black","strokeWidth":1},"encoding":{"x":{"datum":3.252},"y":{"datum":2.895},"y2":{"datum":3.029}}},
   {"data":{"values":[{}]},"mark":{"type":"text","text":"****","font":"Liberation Sans","fontSize":24,"align":"center","baseline":"middle"},"encoding":{"x":{"datum":2.191},"y":{"datum":2.97}}},
   {"data":{"values":[{}]},"mark":{"type":"text","text":"G","fontSize":38,"align":"center","baseline":"middle"},"encoding":{"x":{"datum":-1.277},"y":{"datum":3.707}}}
  ]
 },
 {
  "layer":[
   {"data":{"values":[{}]},"mark":{"type":"rule","color":"#c8c8c8","strokeWidth":2,"strokeDash":[2,2]},"encoding":{"x":{"datum":0,"scale":{"domain":[0,845],"range":[65,586.4],"nice":false,"zero":false,"padding":0},"axis":null},"x2":{"datum":854},"y":{"datum":-50,"scale":{"domain":[-70,10],"range":[901.6,703.2],"nice":false,"zero":false},"axis":null}}},
   {"data":{"name":"traceH"},"mark":{"type":"rule","color":"#7a7a7a","strokeWidth":0.9},"encoding":{"x":{"field":"t","type":"quantitative"},"y":{"field":"v","type":"quantitative"},"y2":{"field":"g"}}},
   {"data":{"name":"traceH"},"mark":{"type":"line","color":"black","strokeWidth":1.8},"encoding":{"x":{"field":"t","type":"quantitative"},"y":{"field":"v","type":"quantitative"}}},
   {"data":{"values":[{}]},"mark":{"type":"rule","color":"#a8a8a8","strokeWidth":3.5},"encoding":{"x":{"datum":126.4},"x2":{"datum":491.9},"y":{"datum":-4.44}}},
   {"data":{"values":[{}]},"mark":{"type":"text","text":"pGH","fontSize":24,"align":"center","baseline":"middle"},"encoding":{"x":{"datum":248},"y":{"datum":-1.21}}},
   {"data":{"values":[{}]},"mark":{"type":"text","text":"H","fontSize":38,"align":"center","baseline":"middle"},"encoding":{"x":{"datum":-81},"y":{"datum":8.47}}},
   {"data":{"values":[{}]},"mark":{"type":"text","text":"-50 mV","fontSize":16,"align":"right","baseline":"middle"},"encoding":{"x":{"datum":-6.5},"y":{"datum":-50}}},
   {"data":{"values":[{}]},"mark":{"type":"rule","color":"black","strokeWidth":2},"encoding":{"x":{"datum":761.1},"x2":{"datum":820.6},"y":{"datum":-21.3}}},
   {"data":{"values":[{}]},"mark":{"type":"rule","color":"black","strokeWidth":2},"encoding":{"x":{"datum":820.6},"y":{"datum":-21.3},"y2":{"datum":-31.3}}},
   {"data":{"values":[{}]},"mark":{"type":"text","text":"10 mV","fontSize":16,"align":"right","baseline":"middle"},"encoding":{"x":{"datum":812},"y":{"datum":-26.21}}},
   {"data":{"values":[{}]},"mark":{"type":"text","text":"60 s","fontSize":16,"align":"center","baseline":"middle"},"encoding":{"x":{"datum":776.3},"y":{"datum":-34.68}}}
  ]
 }
],
"resolve":{"scale":{"x":"independent","y":"independent","fill":"independent","stroke":"independent","color":"independent"},"axis":{"x":"independent","y":"independent"},"legend":{"fill":"independent","stroke":"independent","color":"independent"}}
}
